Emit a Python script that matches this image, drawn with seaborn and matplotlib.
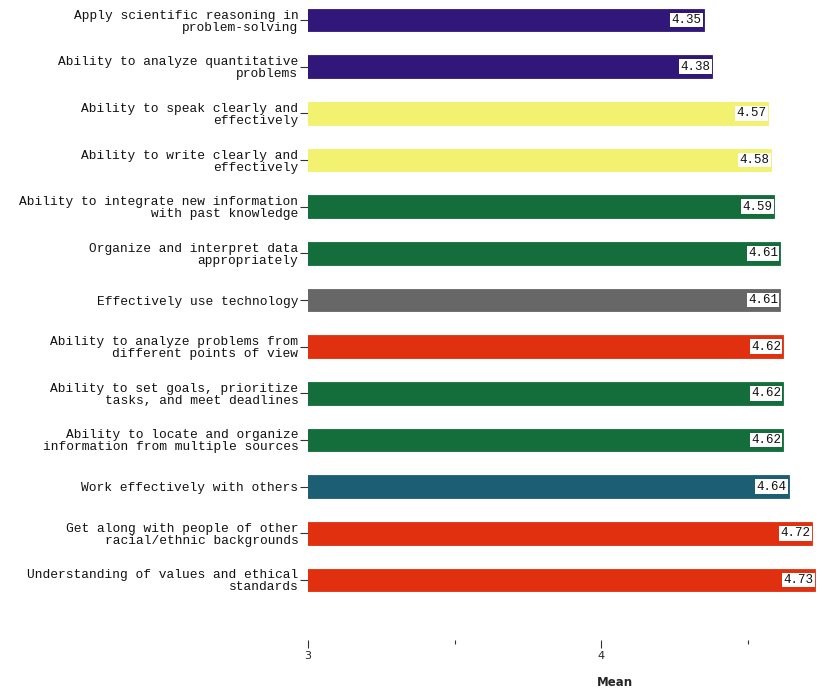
import matplotlib
matplotlib.use("Agg")
import matplotlib.pyplot as plt
import seaborn as sns
import pandas as pd
from matplotlib.ticker import MultipleLocator

# chart values
labels = [
    "Apply scientific reasoning in\nproblem-solving",
    "Ability to analyze quantitative\nproblems",
    "Ability to speak clearly and\neffectively",
    "Ability to write clearly and\neffectively",
    "Ability to integrate new information\nwith past knowledge",
    "Organize and interpret data\nappropriately",
    "Effectively use technology",
    "Ability to analyze problems from\ndifferent points of view",
    "Ability to set goals, prioritize\ntasks, and meet deadlines",
    "Ability to locate and organize\ninformation from multiple sources",
    "Work effectively with others",
    "Get along with people of other\nracial/ethnic backgrounds",
    "Understanding of values and ethical\nstandards",
]
means = [4.35, 4.38, 4.57, 4.58, 4.59, 4.61, 4.61, 4.62, 4.62, 4.62, 4.64, 4.72, 4.73]
bar_colors = ["#31177a", "#31177a", "#f2f270", "#f2f270", "#136e3c", "#136e3c",
              "#676767", "#e0300f", "#136e3c", "#136e3c", "#1c5e74", "#e0300f", "#e0300f"]

df = pd.DataFrame({"label": labels, "mean": means})

sns.set_style("white")
fig = plt.figure(figsize=(8.22, 6.89), dpi=100)
ax = fig.add_axes([0.3747, 0.0711, 0.6253, 0.9289])

sns.barplot(data=df, y="label", x="mean", hue="label", palette=bar_colors,
            legend=False, orient="h", width=0.49, ax=ax, saturation=1)

for patch, c in zip(ax.patches, bar_colors):
    patch.set_edgecolor(c)
    patch.set_linewidth(0.6)

for i, v in enumerate(means):
    ax.text(v - 0.006, i, f"{v:.2f}", ha="right", va="center",
            fontfamily="Liberation Mono", fontsize=9, color="#111111",
            bbox=dict(facecolor="white", edgecolor="none", pad=1.0))

ax.set_xlim(3, 4.754)
ax.set_ylim(len(labels) - 1 + 1.286, -0.4286)
for s in ax.spines.values():
    s.set_visible(False)

ax.xaxis.set_major_locator(MultipleLocator(1))
ax.xaxis.set_minor_locator(MultipleLocator(0.5))
ax.tick_params(axis="x", which="major", bottom=True, length=6, width=0.8,
               color="#333333", labelsize=8, pad=2)
ax.tick_params(axis="x", which="minor", bottom=True, length=3, width=0.8,
               color="#333333")
ax.tick_params(axis="y", left=True, length=6, width=0.8, color="#333333", pad=1)
for t in ax.get_yticklabels():
    t.set_fontfamily("Liberation Mono")
    t.set_fontsize(9.3)
    t.set_linespacing(1.0)
    t.set_color("#111111")

ax.set_ylabel("")
ax.set_xlabel("Mean", fontsize=8.5, fontweight="bold")
ax.xaxis.set_label_coords(0.597, -0.056)

fig.savefig("out.png", dpi=100)
